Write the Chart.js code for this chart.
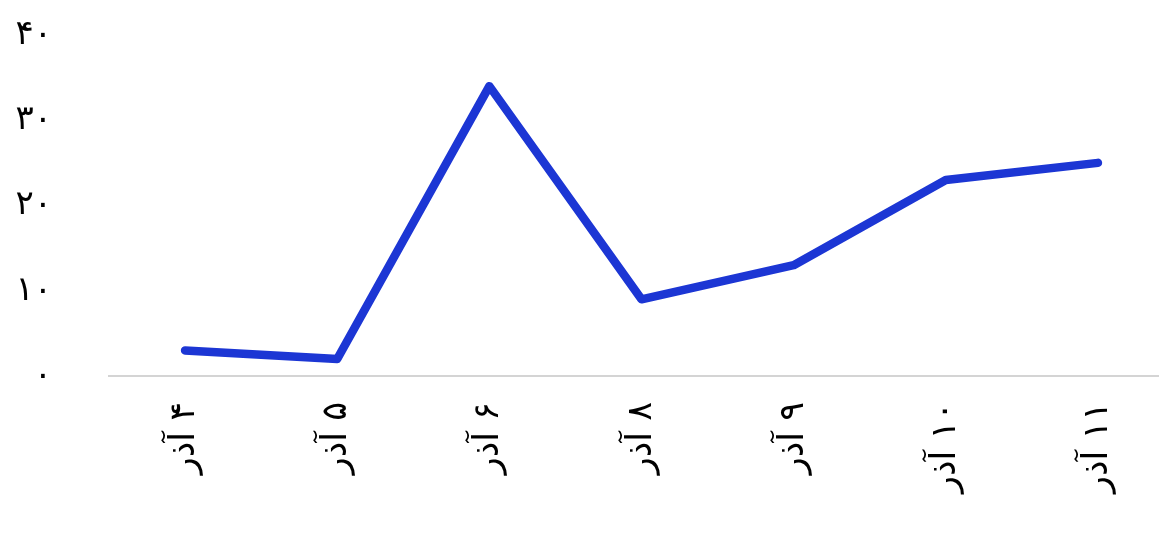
<!DOCTYPE html>
<html>
<head>
<meta charset="utf-8">
<script src="https://cdn.jsdelivr.net/npm/chart.js@4"></script>
<style>
html,body{margin:0;padding:0;background:#fff;overflow:hidden;}
#wrap{position:relative;width:1174px;height:537px;}
</style>
</head>
<body>
<div id="wrap"><canvas id="c"></canvas></div>
<script>
const categories = ["۴ آذر","۵ آذر","۶ آذر","۸ آذر","۹ آذر","۱۰ آذر","۱۱ آذر"];
const values = [3, 2, 34, 9, 13, 23, 25];
const yTicks = [0, 10, 20, 30, 40];
const faDigits = ['۰','۱','۲','۳','۴','۵','۶','۷','۸','۹'];
const toFa = n => String(n).replace(/\d/g, d => faDigits[d]);

new Chart(document.getElementById('c'), {
  type: 'line',
  data: {
    labels: categories.map(l => '\u202B' + l + '\u202C'),
    datasets: [{
      data: values,
      borderColor: '#1c36d4',
      borderWidth: 8.5,
      borderCapStyle: 'round',
      borderJoinStyle: 'round',
      pointRadius: 0,
      pointHoverRadius: 0,
      tension: 0,
      fill: false
    }]
  },
  options: {
    responsive: true,
    maintainAspectRatio: false,
    animation: false,
    layout: { padding: { left: 0, top: 35, right: 0, bottom: 0 } },
    plugins: { legend: { display: false }, tooltip: { enabled: false } },
    scales: {
      x: {
        offset: true,
        grid: { display: false, drawTicks: false },
        border: { display: true, color: '#d4d4d4', width: 2 },
        ticks: {
          color: '#000',
          font: { family: 'DejaVu Sans', size: 35 },
          minRotation: 90,
          maxRotation: 90,
          padding: 26
        },
        afterFit: s => { s.height = 161; s.paddingLeft = 0; s.paddingRight = 0; }
      },
      y: {
        min: 0,
        max: 40,
        afterBuildTicks: s => { s.ticks = yTicks.map(v => ({ value: v })); },
        grid: { display: false, drawTicks: false },
        border: { display: false },
        ticks: {
          color: '#000',
          font: { family: 'DejaVu Sans', size: 34 },
          padding: 57,
          callback: v => toFa(v)
        },
        afterFit: s => { s.width = 109; s.paddingTop = 0; s.paddingBottom = 0; }
      }
    }
  }
});
</script>
</body>
</html>
